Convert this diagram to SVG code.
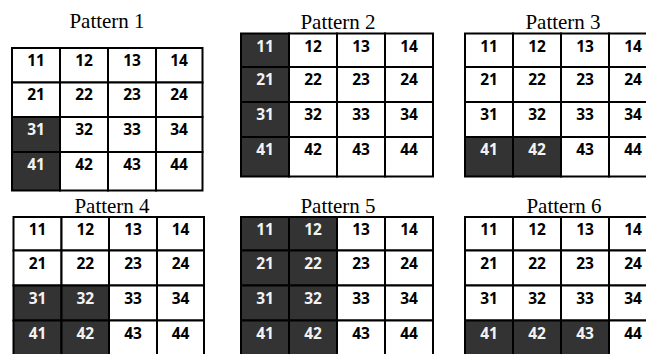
<svg xmlns="http://www.w3.org/2000/svg" width="646" height="354" viewBox="0 0 646 354">
<style>
.c{fill:#fff;stroke:#000;stroke-width:2}
.d{fill:#333;stroke:#000;stroke-width:2}
.n{font-family:"Open Sans","DejaVu Sans",sans-serif;font-weight:700;font-size:15.5px;text-anchor:middle;fill:#000}
.w{fill:#f2f2f2}
.h{font-family:"Liberation Serif","Times New Roman",serif;font-size:21px;text-anchor:middle;fill:#000}
</style>
<rect width="646" height="354" fill="#fff"/>

<g id="pattern1">
<text class="h" x="107" y="28">Pattern 1</text>
<rect class="c" x="12" y="48" width="48" height="34.5"/><rect class="c" x="60" y="48" width="48" height="34.5"/><rect class="c" x="108" y="48" width="48" height="34.5"/><rect class="c" x="156" y="48" width="46.5" height="34.5"/>
<rect class="c" x="12" y="82.5" width="48" height="34.5"/><rect class="c" x="60" y="82.5" width="48" height="34.5"/><rect class="c" x="108" y="82.5" width="48" height="34.5"/><rect class="c" x="156" y="82.5" width="46.5" height="34.5"/>
<rect class="d" x="12" y="117" width="48" height="35"/><rect class="c" x="60" y="117" width="48" height="35"/><rect class="c" x="108" y="117" width="48" height="35"/><rect class="c" x="156" y="117" width="46.5" height="35"/>
<rect class="d" x="12" y="152" width="48" height="38.5"/><rect class="c" x="60" y="152" width="48" height="38.5"/><rect class="c" x="108" y="152" width="48" height="38.5"/><rect class="c" x="156" y="152" width="46.5" height="38.5"/>
<text class="n" x="36" y="65.5">11</text><text class="n" x="84" y="65.5">12</text><text class="n" x="132" y="65.5">13</text><text class="n" x="179" y="65.5">14</text>
<text class="n" x="36" y="100">21</text><text class="n" x="84" y="100">22</text><text class="n" x="132" y="100">23</text><text class="n" x="179" y="100">24</text>
<text class="n w" x="36" y="134.5">31</text><text class="n" x="84" y="134.5">32</text><text class="n" x="132" y="134.5">33</text><text class="n" x="179" y="134.5">34</text>
<text class="n w" x="36" y="169.5">41</text><text class="n" x="84" y="169.5">42</text><text class="n" x="132" y="169.5">43</text><text class="n" x="179" y="169.5">44</text>
</g>

<g id="pattern2">
<text class="h" x="338" y="29">Pattern 2</text>
<rect class="d" x="241" y="33.5" width="48" height="33.5"/><rect class="c" x="289" y="33.5" width="48" height="33.5"/><rect class="c" x="337" y="33.5" width="48" height="33.5"/><rect class="c" x="385" y="33.5" width="48" height="33.5"/>
<rect class="d" x="241" y="67" width="48" height="35"/><rect class="c" x="289" y="67" width="48" height="35"/><rect class="c" x="337" y="67" width="48" height="35"/><rect class="c" x="385" y="67" width="48" height="35"/>
<rect class="d" x="241" y="102" width="48" height="35"/><rect class="c" x="289" y="102" width="48" height="35"/><rect class="c" x="337" y="102" width="48" height="35"/><rect class="c" x="385" y="102" width="48" height="35"/>
<rect class="d" x="241" y="137" width="48" height="39.5"/><rect class="c" x="289" y="137" width="48" height="39.5"/><rect class="c" x="337" y="137" width="48" height="39.5"/><rect class="c" x="385" y="137" width="48" height="39.5"/>
<text class="n w" x="265" y="51.5">11</text><text class="n" x="313" y="51.5">12</text><text class="n" x="361" y="51.5">13</text><text class="n" x="409" y="51.5">14</text>
<text class="n w" x="265" y="85">21</text><text class="n" x="313" y="85">22</text><text class="n" x="361" y="85">23</text><text class="n" x="409" y="85">24</text>
<text class="n w" x="265" y="120">31</text><text class="n" x="313" y="120">32</text><text class="n" x="361" y="120">33</text><text class="n" x="409" y="120">34</text>
<text class="n w" x="265" y="155">41</text><text class="n" x="313" y="155">42</text><text class="n" x="361" y="155">43</text><text class="n" x="409" y="155">44</text>
</g>

<g id="pattern3">
<text class="h" x="563" y="29">Pattern 3</text>
<rect class="c" x="465" y="33.5" width="48" height="33.5"/><rect class="c" x="513" y="33.5" width="48" height="33.5"/><rect class="c" x="561" y="33.5" width="48" height="33.5"/><rect class="c" x="609" y="33.5" width="48" height="33.5"/>
<rect class="c" x="465" y="67" width="48" height="35"/><rect class="c" x="513" y="67" width="48" height="35"/><rect class="c" x="561" y="67" width="48" height="35"/><rect class="c" x="609" y="67" width="48" height="35"/>
<rect class="c" x="465" y="102" width="48" height="35"/><rect class="c" x="513" y="102" width="48" height="35"/><rect class="c" x="561" y="102" width="48" height="35"/><rect class="c" x="609" y="102" width="48" height="35"/>
<rect class="d" x="465" y="137" width="48" height="39.5"/><rect class="d" x="513" y="137" width="48" height="39.5"/><rect class="c" x="561" y="137" width="48" height="39.5"/><rect class="c" x="609" y="137" width="48" height="39.5"/>
<text class="n" x="489" y="51.5">11</text><text class="n" x="537" y="51.5">12</text><text class="n" x="585" y="51.5">13</text><text class="n" x="633" y="51.5">14</text>
<text class="n" x="489" y="85">21</text><text class="n" x="537" y="85">22</text><text class="n" x="585" y="85">23</text><text class="n" x="633" y="85">24</text>
<text class="n" x="489" y="120">31</text><text class="n" x="537" y="120">32</text><text class="n" x="585" y="120">33</text><text class="n" x="633" y="120">34</text>
<text class="n w" x="489" y="155">41</text><text class="n w" x="537" y="155">42</text><text class="n" x="585" y="155">43</text><text class="n" x="633" y="155">44</text>
</g>

<g id="pattern4">
<text class="h" x="112" y="212.5">Pattern 4</text>
<rect class="c" x="13.5" y="217" width="48" height="33.5"/><rect class="c" x="61.5" y="217" width="47.5" height="33.5"/><rect class="c" x="109" y="217" width="48" height="33.5"/><rect class="c" x="157" y="217" width="47" height="33.5"/>
<rect class="c" x="13.5" y="250.5" width="48" height="35"/><rect class="c" x="61.5" y="250.5" width="47.5" height="35"/><rect class="c" x="109" y="250.5" width="48" height="35"/><rect class="c" x="157" y="250.5" width="47" height="35"/>
<rect class="d" x="13.5" y="285.5" width="48" height="35"/><rect class="d" x="61.5" y="285.5" width="47.5" height="35"/><rect class="c" x="109" y="285.5" width="48" height="35"/><rect class="c" x="157" y="285.5" width="47" height="35"/>
<rect class="d" x="13.5" y="320.5" width="48" height="39"/><rect class="d" x="61.5" y="320.5" width="47.5" height="39"/><rect class="c" x="109" y="320.5" width="48" height="39"/><rect class="c" x="157" y="320.5" width="47" height="39"/>
<text class="n" x="37.5" y="235">11</text><text class="n" x="85.25" y="235">12</text><text class="n" x="133" y="235">13</text><text class="n" x="180.5" y="235">14</text>
<text class="n" x="37.5" y="268.5">21</text><text class="n" x="85.25" y="268.5">22</text><text class="n" x="133" y="268.5">23</text><text class="n" x="180.5" y="268.5">24</text>
<text class="n w" x="37.5" y="303.5">31</text><text class="n w" x="85.25" y="303.5">32</text><text class="n" x="133" y="303.5">33</text><text class="n" x="180.5" y="303.5">34</text>
<text class="n w" x="37.5" y="338.5">41</text><text class="n w" x="85.25" y="338.5">42</text><text class="n" x="133" y="338.5">43</text><text class="n" x="180.5" y="338.5">44</text>
</g>

<g id="pattern5">
<text class="h" x="338" y="212.5">Pattern 5</text>
<rect class="d" x="241" y="217" width="48" height="33.5"/><rect class="d" x="289" y="217" width="48" height="33.5"/><rect class="c" x="337" y="217" width="48" height="33.5"/><rect class="c" x="385" y="217" width="48" height="33.5"/>
<rect class="d" x="241" y="250.5" width="48" height="35"/><rect class="d" x="289" y="250.5" width="48" height="35"/><rect class="c" x="337" y="250.5" width="48" height="35"/><rect class="c" x="385" y="250.5" width="48" height="35"/>
<rect class="d" x="241" y="285.5" width="48" height="35"/><rect class="d" x="289" y="285.5" width="48" height="35"/><rect class="c" x="337" y="285.5" width="48" height="35"/><rect class="c" x="385" y="285.5" width="48" height="35"/>
<rect class="d" x="241" y="320.5" width="48" height="39"/><rect class="d" x="289" y="320.5" width="48" height="39"/><rect class="c" x="337" y="320.5" width="48" height="39"/><rect class="c" x="385" y="320.5" width="48" height="39"/>
<text class="n w" x="265" y="235">11</text><text class="n w" x="313" y="235">12</text><text class="n" x="361" y="235">13</text><text class="n" x="409" y="235">14</text>
<text class="n w" x="265" y="268.5">21</text><text class="n w" x="313" y="268.5">22</text><text class="n" x="361" y="268.5">23</text><text class="n" x="409" y="268.5">24</text>
<text class="n w" x="265" y="303.5">31</text><text class="n w" x="313" y="303.5">32</text><text class="n" x="361" y="303.5">33</text><text class="n" x="409" y="303.5">34</text>
<text class="n w" x="265" y="338.5">41</text><text class="n w" x="313" y="338.5">42</text><text class="n" x="361" y="338.5">43</text><text class="n" x="409" y="338.5">44</text>
</g>

<g id="pattern6">
<text class="h" x="564" y="212.5">Pattern 6</text>
<rect class="c" x="465" y="217" width="48" height="33.5"/><rect class="c" x="513" y="217" width="48" height="33.5"/><rect class="c" x="561" y="217" width="48" height="33.5"/><rect class="c" x="609" y="217" width="48" height="33.5"/>
<rect class="c" x="465" y="250.5" width="48" height="35"/><rect class="c" x="513" y="250.5" width="48" height="35"/><rect class="c" x="561" y="250.5" width="48" height="35"/><rect class="c" x="609" y="250.5" width="48" height="35"/>
<rect class="c" x="465" y="285.5" width="48" height="35"/><rect class="c" x="513" y="285.5" width="48" height="35"/><rect class="c" x="561" y="285.5" width="48" height="35"/><rect class="c" x="609" y="285.5" width="48" height="35"/>
<rect class="d" x="465" y="320.5" width="48" height="39"/><rect class="d" x="513" y="320.5" width="48" height="39"/><rect class="d" x="561" y="320.5" width="48" height="39"/><rect class="c" x="609" y="320.5" width="48" height="39"/>
<text class="n" x="489" y="235">11</text><text class="n" x="537" y="235">12</text><text class="n" x="585" y="235">13</text><text class="n" x="633" y="235">14</text>
<text class="n" x="489" y="268.5">21</text><text class="n" x="537" y="268.5">22</text><text class="n" x="585" y="268.5">23</text><text class="n" x="633" y="268.5">24</text>
<text class="n" x="489" y="303.5">31</text><text class="n" x="537" y="303.5">32</text><text class="n" x="585" y="303.5">33</text><text class="n" x="633" y="303.5">34</text>
<text class="n w" x="489" y="338.5">41</text><text class="n w" x="537" y="338.5">42</text><text class="n w" x="585" y="338.5">43</text><text class="n" x="633" y="338.5">44</text>
</g>
</svg>
